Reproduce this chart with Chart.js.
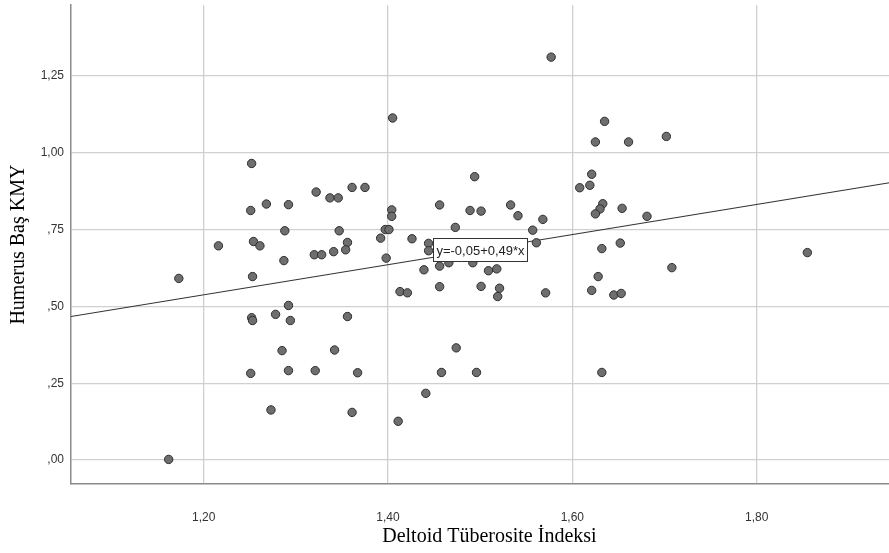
<!DOCTYPE html>
<html>
<head>
  <meta charset="UTF-8">
  <title>Deltoid Tüberosite İndeksi / Humerus Baş KMY</title>
  <script src="https://cdn.jsdelivr.net/npm/chart.js"></script>
  <style>
    html, body { margin: 0; padding: 0; background: #fff; overflow: hidden; }
    /* plot runs a bit past the right edge of the window, as in the source figure */
    #chartContainer { width: 913px; height: 553px; }
  </style>
</head>
<body>
  <div id="chartContainer">
    <canvas id="scatterChart"></canvas>
  </div>

  <script>
    // Values (x = Deltoid Tüberosite İndeksi, y = Humerus Baş KMY)
    const xValues = [
      1.252, 1.322, 1.337, 1.346, 1.361, 1.375, 1.251, 1.268, 1.292, 1.288,
      1.347, 1.216, 1.254, 1.261, 1.356, 1.341, 1.354, 1.320, 1.328, 1.287,
      1.173, 1.253, 1.292, 1.252, 1.253, 1.278, 1.294, 1.356, 1.285, 1.342,
      1.251, 1.292, 1.321, 1.367, 1.273, 1.361, 1.162, 1.405, 1.404, 1.404,
      1.456, 1.494, 1.489, 1.501, 1.397, 1.401, 1.473, 1.392, 1.426, 1.444,
      1.444, 1.398, 1.439, 1.456, 1.466, 1.492, 1.509, 1.518, 1.413, 1.421,
      1.456, 1.501, 1.521, 1.519, 1.474, 1.458, 1.496, 1.441, 1.411, 1.577,
      1.533, 1.541, 1.568, 1.557, 1.561, 1.571, 1.621, 1.619, 1.608, 1.635,
      1.625, 1.661, 1.702, 1.633, 1.630, 1.625, 1.654, 1.681, 1.632, 1.652,
      1.628, 1.708, 1.621, 1.645, 1.653, 1.632, 1.855
    ];
    const yValues = [
      0.965, 0.872, 0.853, 0.853, 0.887, 0.887, 0.812, 0.833, 0.831, 0.746,
      0.746, 0.697, 0.711, 0.697, 0.708, 0.678, 0.684, 0.668, 0.668, 0.649,
      0.591, 0.597, 0.503, 0.463, 0.454, 0.474, 0.454, 0.467, 0.356, 0.358,
      0.282, 0.291, 0.291, 0.284, 0.163, 0.155, 0.002, 1.113, 0.814, 0.793,
      0.830, 0.922, 0.812, 0.810, 0.750, 0.750, 0.757, 0.722, 0.720, 0.705,
      0.681, 0.657, 0.619, 0.631, 0.642, 0.642, 0.616, 0.622, 0.548, 0.544,
      0.564, 0.565, 0.559, 0.532, 0.365, 0.285, 0.285, 0.217, 0.126, 1.311,
      0.830, 0.795, 0.783, 0.748, 0.707, 0.544, 0.930, 0.894, 0.886, 1.102,
      1.035, 1.035, 1.053, 0.834, 0.817, 0.801, 0.819, 0.793, 0.688, 0.706,
      0.597, 0.626, 0.552, 0.537, 0.542, 0.285, 0.675
    ];

    const xTicks = [1.2, 1.4, 1.6, 1.8];
    const yTicks = [0, 0.25, 0.5, 0.75, 1.0, 1.25];

    // fit line end points as seen on the plot
    const fitX = [1.056, 1.964];
    const fitY = [0.467, 0.912];
    const fitText = 'y=-0,05+0,49*x';
    const fitLabelAt = [1.5, 0.685];

    // SPSS style numbers: comma decimal, no leading zero
    function spssNum(v) {
      let s = v.toFixed(2).replace('.', ',');
      if (s.startsWith('0,')) s = s.substring(1);
      return s;
    }

    const points = xValues.map((x, i) => ({ x: x, y: yValues[i] }));
    const fitLine = fitX.map((x, i) => ({ x: x, y: fitY[i] }));

    // boxed equation label on the fit line
    const fitLabel = {
      id: 'fitLabel',
      afterDatasetsDraw(chart) {
        const ctx = chart.ctx;
        const px = chart.scales.x.getPixelForValue(fitLabelAt[0]);
        const py = chart.scales.y.getPixelForValue(fitLabelAt[1]);
        ctx.save();
        ctx.font = '13px "Liberation Sans", Arial, sans-serif';
        const w = Math.round(ctx.measureText(fitText).width + 6);
        const h = 23;
        const bx = Math.round(px - w / 2) + 0.5;
        const by = Math.round(py - h / 2) + 0.5;
        ctx.fillStyle = '#fff';
        ctx.fillRect(bx, by, w, h);
        ctx.strokeStyle = '#333';
        ctx.lineWidth = 1;
        ctx.strokeRect(bx, by, w, h);
        ctx.fillStyle = '#222';
        ctx.textAlign = 'center';
        ctx.textBaseline = 'middle';
        ctx.fillText(fitText, bx + w / 2, by + h / 2 + 1);
        ctx.restore();
      }
    };

    const tickFont = { family: '"Liberation Sans", Arial, sans-serif', size: 12 };
    const titleFont = { family: '"Liberation Serif", "Times New Roman", serif', size: 20, lineHeight: 1.2 };

    const ctx = document.getElementById('scatterChart').getContext('2d');
    new Chart(ctx, {
      type: 'scatter',
      data: {
        datasets: [
          {
            type: 'line',
            data: fitLine,
            borderColor: '#333',
            borderWidth: 1.2,
            pointRadius: 0,
            fill: false,
            order: 1
          },
          {
            data: points,
            backgroundColor: '#6e6e6e',
            borderColor: '#2e2e2e',
            borderWidth: 1,
            pointRadius: 4.2,
            order: 0
          }
        ]
      },
      options: {
        responsive: true,
        maintainAspectRatio: false,
        animation: false,
        layout: { padding: { top: 4, left: 0, right: 0, bottom: 0 } },
        plugins: {
          legend: { display: false },
          tooltip: { enabled: false }
        },
        scales: {
          x: {
            type: 'linear',
            min: 1.056,
            max: 1.964,
            afterBuildTicks: s => { s.ticks = xTicks.map(v => ({ value: v })); },
            afterFit: s => { s.height = 69; s.paddingLeft = 0; s.paddingRight = 0; },
            grid: { color: '#d0d0d0', lineWidth: 1.3, drawTicks: false },
            border: { color: '#8a8a8a', width: 1.5 },
            ticks: { padding: 26, color: '#333', font: tickFont, callback: v => spssNum(v) },
            title: {
              display: true,
              text: 'Deltoid Tüberosite İndeksi',
              color: '#000',
              font: titleFont,
              padding: { top: 0, bottom: 4 }
            }
          },
          y: {
            type: 'linear',
            min: -0.078,
            max: 1.48,
            afterBuildTicks: s => { s.ticks = yTicks.map(v => ({ value: v })); },
            afterFit: s => { s.width = 71; s.paddingTop = 0; s.paddingBottom = 0; },
            grid: { color: '#d0d0d0', lineWidth: 1.3, drawTicks: false },
            border: { color: '#8a8a8a', width: 1.5 },
            ticks: { padding: 7, color: '#333', font: tickFont, callback: v => spssNum(v) },
            title: {
              display: true,
              text: 'Humerus Baş KMY',
              color: '#000',
              font: titleFont,
              padding: { top: 7, bottom: 0 }
            }
          }
        }
      },
      plugins: [fitLabel]
    });
  </script>
</body>
</html>
